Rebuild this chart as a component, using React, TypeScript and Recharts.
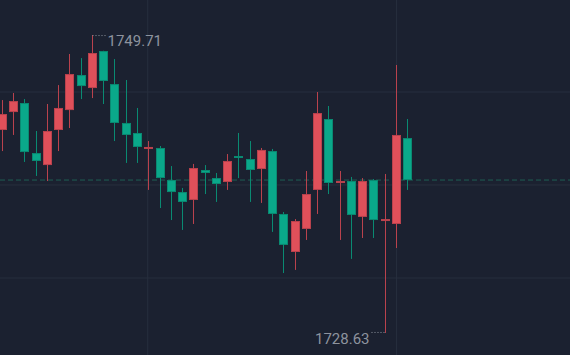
import { ComposedChart, Bar, XAxis, YAxis, CartesianGrid } from 'recharts'

// candle data, left to right
const opens = [
  1742.99, 1744.26, 1744.9, 1741.36, 1740.51, 1742.99, 1744.4, 1746.88, 1745.96, 1748.58,
  1746.24, 1743.49, 1742.78, 1741.76, 1741.72, 1739.45, 1738.6, 1738.04, 1740.16, 1739.59,
  1739.31, 1741.15, 1740.94, 1740.23, 1741.5, 1737.05, 1734.36, 1735.99, 1738.75, 1743.77,
  1739.31, 1739.38, 1736.84, 1739.45, 1736.55, 1736.34, 1742.42,
]
const highs = [
  1745.11, 1745.61, 1745.18, 1742.92, 1744.83, 1746.17, 1748.37, 1748.08, 1749.71, 1748.6,
  1748.01, 1746.53, 1744.55, 1742.21, 1741.86, 1740.44, 1738.89, 1740.59, 1740.51, 1739.95,
  1741.29, 1742.78, 1742.21, 1741.72, 1741.65, 1737.19, 1736.69, 1740.09, 1745.68, 1744.69,
  1740.09, 1739.67, 1739.59, 1739.52, 1739.88, 1747.59, 1743.77,
]
const lows = [
  1741.5, 1742.64, 1740.73, 1739.74, 1739.38, 1741.5, 1743.13, 1745.18, 1745.25, 1744.83,
  1742.21, 1740.66, 1740.66, 1738.75, 1737.47, 1736.62, 1735.92, 1736.34, 1738.46, 1737.9,
  1738.75, 1739.59, 1737.9, 1737.83, 1735.78, 1732.87, 1733.09, 1735.21, 1737.05, 1738.46,
  1735.21, 1733.87, 1735.35, 1735.35, 1728.63, 1734.64, 1738.75,
]
const closes = [
  1744.12, 1745.04, 1741.43, 1740.8, 1742.92, 1744.55, 1746.95, 1746.1, 1748.44, 1746.46,
  1743.49, 1742.64, 1741.79, 1741.79, 1739.59, 1738.6, 1737.9, 1740.3, 1739.95, 1739.17,
  1740.8, 1741.01, 1740.16, 1741.58, 1737.05, 1734.86, 1736.55, 1738.46, 1744.19, 1739.24,
  1739.38, 1736.98, 1739.38, 1736.62, 1736.69, 1742.64, 1739.45,
]

const gridPrices = [1752.12, 1745.68, 1739.1, 1732.52]
const gridCandles = [12.9, 35]

const BG = '#1b2130'
const RED = '#e0505a'
const RED_EDGE = '#b9424d'
const GREEN = '#0aa88a'
const GREEN_EDGE = '#0a8a72'
const GRID = '#272f3e'
const LABEL = '#8d939e'

const data = opens.map((open, i) => ({
  i,
  open,
  high: highs[i],
  low: lows[i],
  close: closes[i],
  range: [lows[i], highs[i]],
}))

const maxHigh = Math.max(...highs)
const minLow = Math.min(...lows)
const lastClose = closes[closes.length - 1]

const Candle = (props: any) => {
  const { x, y, width, height, payload } = props
  const { open, close, high, low } = payload
  const top = Math.min(y, y + height)
  const h = Math.abs(height)
  const perUnit = h / (high - low)
  const py = (v: number) => top + (high - v) * perUnit
  const cx = x + width / 2
  const wx = Math.floor(cx) + 0.5
  const up = close >= open
  const color = up ? RED : GREEN
  const edge = up ? RED_EDGE : GREEN_EDGE
  const bodyTop = py(Math.max(open, close))
  const bodyH = Math.max(py(Math.min(open, close)) - bodyTop, 2)
  const bx = Math.floor(cx) - 4

  return (
    <g>
      <line x1={wx} x2={wx} y1={top} y2={top + h} stroke={edge} strokeWidth={1} />
      <rect x={bx + 0.5} y={bodyTop + 0.5} width={8} height={Math.max(bodyH - 1, 1)} fill={color} stroke={edge} strokeWidth={1} />
      {high === maxHigh && (
        <g>
          <line x1={wx} x2={wx + 13} y1={top + 0.5} y2={top + 0.5} stroke={LABEL} strokeDasharray="1 2" />
          <text x={wx + 15} y={top + 11} fill={LABEL} fontSize={15} fontFamily="Roboto">
            {high.toFixed(2)}
          </text>
        </g>
      )}
      {low === minLow && (
        <g>
          <line x1={wx - 14} x2={wx} y1={top + h - 0.5} y2={top + h - 0.5} stroke={LABEL} strokeDasharray="1 2" />
          <text x={wx - 16} y={top + h + 11} fill={LABEL} fontSize={15} fontFamily="Roboto" textAnchor="end">
            {low.toFixed(2)}
          </text>
        </g>
      )}
    </g>
  )
}

export default function App() {
  return (
    <div style={{ width: 570, height: 355, background: BG }}>
      <style>{`body{margin:0}`}</style>
      <ComposedChart width={570} height={355} data={data} margin={{ top: 0, right: 0, bottom: 0, left: 0 }}>
        <XAxis dataKey="i" type="number" domain={[-0.222, 50.4]} allowDataOverflow hide />
        <YAxis type="number" domain={[1727.07, 1752.19]} allowDataOverflow hide />
        <CartesianGrid horizontalValues={gridPrices} verticalValues={gridCandles} stroke={GRID} strokeWidth={1} />
        <CartesianGrid horizontalValues={[lastClose]} vertical={false} stroke="#1f5f54" strokeDasharray="5 3" strokeWidth={1} />
        <Bar dataKey="range" barSize={9} shape={(p: any) => <Candle {...p} />} isAnimationActive={false} />
      </ComposedChart>
    </div>
  )
}
